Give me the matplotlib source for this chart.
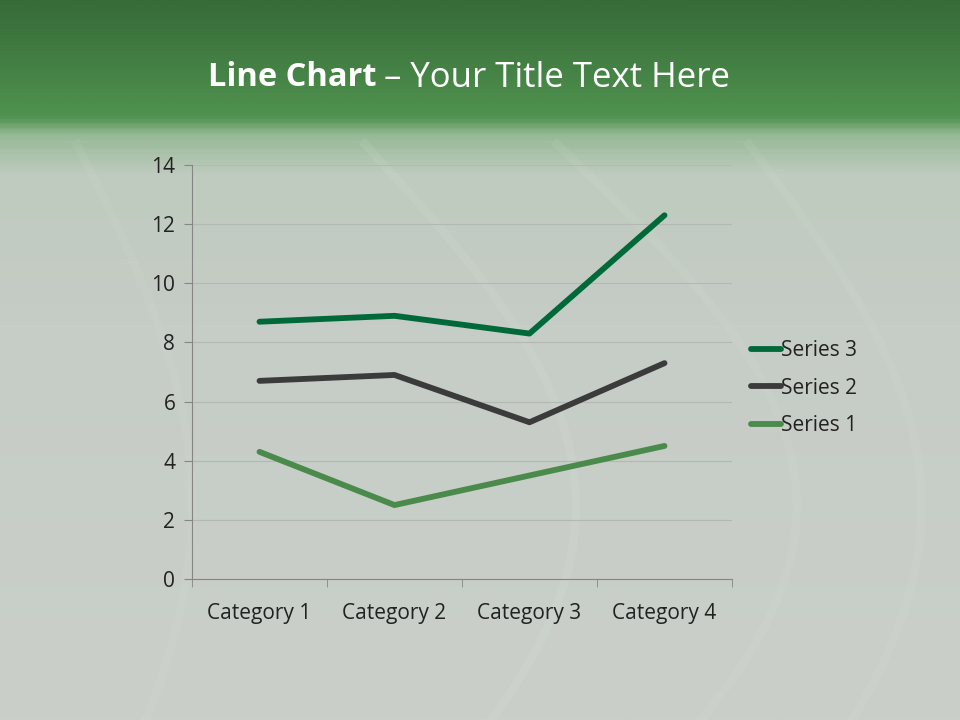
import matplotlib.pyplot as plt
import numpy as np
from matplotlib.colors import LinearSegmentedColormap

plt.rcParams['font.family'] = ['Open Sans', 'DejaVu Sans']

categories = ['Category 1', 'Category 2', 'Category 3', 'Category 4']
series1 = [4.3, 2.5, 3.5, 4.5]
series2 = [2.4, 4.4, 1.8, 2.8]
series3 = [2.0, 2.0, 3.0, 5.0]
# stacked line chart
stacked = np.cumsum([series1, series2, series3], axis=0)
names = ['Series 1', 'Series 2', 'Series 3']
colors = ['#4a8a4a', '#3b3b3b', '#00693a']

fig = plt.figure(figsize=(9.6, 7.2), dpi=100)

# background: green band on top fading into grey-green
bg = fig.add_axes([0, 0, 1, 1])
bg.set_axis_off()
grad = LinearSegmentedColormap.from_list('bg', [
    (0.0, '#376b38'),
    (0.16, '#4f924f'),
    (0.185, '#96b996'),
    (0.24, '#bfcbbf'),
    (0.45, '#c6ccc6'),
    (1.0, '#cacfca'),
])
bg.imshow(np.linspace(0, 1, 400).reshape(-1, 1), aspect='auto', cmap=grad,
          extent=[0, 1, 0, 1], origin='upper')
# faint silky streaks
t = np.linspace(0, 1, 200)
for x0, amp, a in [(0.38, 0.22, 0.10), (0.58, 0.25, 0.08), (0.78, 0.18, 0.08), (0.08, 0.12, 0.07)]:
    bg.plot(x0 + amp * np.sin(t * 2.5), 0.8 - t * 0.8, color='#e6f2e6', alpha=a, lw=6)
bg.set_xlim(0, 1)
bg.set_ylim(0, 1)

fig.text(377 / 960, 1 - 78 / 720, 'Line Chart', color='white', fontsize=23.5,
         fontweight='bold', ha='right', va='center')
fig.text(384 / 960, 1 - 78 / 720, '\u2013 Your Title Text Here', color='white',
         fontsize=25, ha='left', va='center')

ax = fig.add_axes([192 / 960, 141 / 720, 540 / 960, 414 / 720])
ax.patch.set_alpha(0)
x = np.arange(len(categories))
for i in [2, 1, 0]:
    ax.plot(x, stacked[i], color=colors[i], lw=4.2, solid_capstyle='round',
            solid_joinstyle='round', label=names[i])

ax.set_xlim(-0.5, 3.5)
ax.set_ylim(0, 14)
ax.set_yticks(range(0, 15, 2))
ax.set_xticks(x)
ax.set_xticklabels(categories)
ax.set_xticks(np.arange(-0.5, 4, 1), minor=True)
ax.tick_params(axis='x', which='major', length=0, pad=17, labelsize=15, colors='#222222')
ax.tick_params(axis='x', which='minor', length=6, direction='out', color='#868686')
ax.tick_params(axis='y', length=6, direction='out', labelsize=15, pad=6,
               colors='#868686', labelcolor='#222222')
ax.grid(axis='y', color='#b4b8b4', lw=0.8)
ax.set_axisbelow(True)
for s in ['top', 'right']:
    ax.spines[s].set_visible(False)
for s in ['left', 'bottom']:
    ax.spines[s].set_color('#868686')

ax.legend(loc='center left', bbox_to_anchor=(1.0, 0.461), frameon=False,
          fontsize=15, handlelength=1.45, handletextpad=0.0, labelspacing=0.8,
          labelcolor='#222222')

fig.savefig('out.png', dpi=100)
